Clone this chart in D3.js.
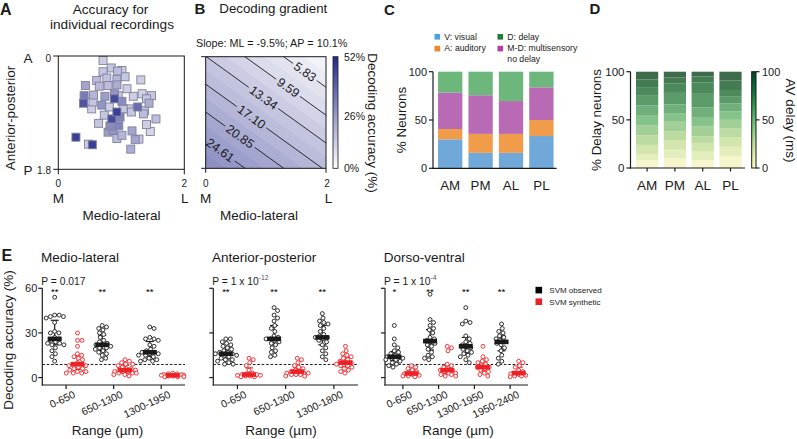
<!DOCTYPE html>
<html><head><meta charset="utf-8">
<script src="https://cdn.jsdelivr.net/npm/d3@7"></script>
<style>
body{margin:0;background:#fff}
svg{display:block}
text{font-family:"Liberation Sans",Arial,Helvetica,sans-serif}
</style>
</head><body>
<script>
// ================= DATA =================
// Panel A: individual recordings (ML mm, AP mm, accuracy %)
const recML  = [0.71,0.84,1.01,1.06,0.94,1.31,0.61,0.77,0.93,0.43,0.65,0.79,0.93,0.41,0.56,0.74,0.89,0.89,0.40,0.55,0.69,1.01,1.19,1.33,1.48,1.44,1.26,1.12,1.37,0.53,0.93,0.73,0.85,0.98,1.35,1.55,0.64,0.82,0.96,1.40,1.46,0.87,1.17,1.01,0.93,1.22,1.28,0.28,0.48,0.54,1.15,0.81,1.03,1.09,0.71,1.16,1.40,0.79,0.95];
const recAP  = [0.07,0.19,0.23,0.33,0.24,0.38,0.39,0.35,0.37,0.47,0.48,0.47,0.46,0.63,0.62,0.64,0.60,0.68,0.75,0.73,0.78,0.72,0.64,0.60,0.63,0.75,0.81,0.84,0.87,0.84,0.89,0.94,1.00,0.97,0.92,1.00,1.07,1.11,1.11,1.09,1.20,1.18,1.19,1.26,1.31,1.33,1.32,1.29,1.40,1.41,1.48,0.81,0.84,0.52,0.25,0.89,0.68,1.21,0.63];
const recAcc = [10,12,11,12,14,10,14,13,16,20,15,14,18,30,16,22,24,42,40,12,24,26,10,9,12,18,34,10,12,10,45,12,42,28,14,14,12,26,28,10,8,24,20,16,14,20,12,45,10,45,18,10,12,10,12,12,12,22,12];

// Panel B: fitted plane (accuracy % = intercept + slopeML*ML + slopeAP*AP)
const planeIntercept = 13.4, planeSlopeML = -5.84, planeSlopeAP = 8.35;
const contourLevels = [5.83, 9.59, 13.34, 17.10, 20.85, 24.61];
const contourLabelML = [1.65, 1.37, 0.96, 0.76, 0.57, 0.24];
const accTicks = [0, 26, 52];

// Panel C
const areas = ["AM","PM","AL","PL"];
const pctVisual        = [30.0, 16.0, 16.0, 33.4];
const pctAuditory      = [10.7, 19.6, 19.6, 16.6];
const pctMultiNoDelay  = [37.6, 40.0, 34.0, 33.8];
const pctDelay         = [21.7, 24.4, 30.4, 16.2];
const classNames = ["V: visual","A: auditory","D: delay","M-D: multisensory"];

// Panel D: % of delay neurons per AV-delay bin (0..100 ms), bottom to top
const delayBins = [0,10,20,30,40,50,60,70,80,90,100];
const delayAM = [8,6,10,10,10,11,10,10,9,8,8];
const delayPM = [10,9,10,9,10,9,9,12,10,6,6];
const delayAL = [8,9,9,7,10,10,10,14,12,6,5];
const delayPL = [12,10,10,9,9,9,8,7,7,10,9];

// Panel E
const chanceLevel = 8.8;
const mlRanges = ["0-650","650-1300","1300-1950"];
const mlObserved = [
 [54,42,41,40,41,42,37,31,30,30,27,26,25,24,23,23,22,22,20,18,16,14,11],
 [35,34,33,32,30,29,27,25,24,23,22,22,21,20,20,19,18,17,16,15,13,12],
 [34,33,27,26,26,25,22,21,19,18,17,17,16,16,15,15,14,13,12,12,11,11]];
const mlSynthetic = [
 [30,25,25,21,16,15,14,13,12,10,9,9,8,8,7,6,6,5,4,4,3,3,3],
 [12,11,10,9,9,8,7,6,6,5,5,4,4,4,3,3,3,2,2,1],
 [3,2.5,2.5,2,2,1.5,1.5,1,1,0.5,0.5,0.5]];
const mlStars = ["**","**","**"];
const apRanges = ["0-650","650-1300","1300-1800"];
const apObserved = [
 [26,26,24,23,22,21,20,19,18,17,17,16,16,15,15,14,13,12,12,11,10,9,9],
 [47,45,42,40,38,35,33,31,28,27,26,26,25,24,23,22,20,18,17,15,14],
 [43,40,38,37,36,35,33,31,29,28,27,27,26,25,24,22,20,18,16,14,12]];
const apSynthetic = [
 [13,12,10,8,5,3,2.5,2,2,1.5,1.5,1,1,0.5,0.5],
 [13,12,10,8,7,6,5,4,4,3,3,3,2,2,2,1,1],
 [21,18,16,15,14,13,12,11,10,10,9,8,8,7,6,5,4,3]];
const apStars = ["**","**","**"];
const dvRanges = ["0-650","650-1300","1300-1950","1950-2400"];
const dvObserved = [
 [35,26,22,20,18,17,16,15,14,14,13,13,12,12,11,10,9,8,7],
 [56,39,37,35,33,32,30,27,26,25,24,23,22,21,19,17,15,14,13,12],
 [47,38,37,36,28,26,24,23,22,21,20,19,18,17,16,15,14,12,10],
 [36,33,31,30,28,27,26,25,24,23,22,20,18,15,13,11,9]];
const dvSynthetic = [
 [8,7,6,5,4,3,2.5,2,1.5,1,1,0.5],
 [21,20,18,9,8,7,6,5,5,4,3,3,2,2,1,1],
 [21,14,12,11,10,9,8,7,7,6,5,4,3,2,1],
 [11,10,8,7,5,4,3,2.5,2,1.5,1,1,0.5]];
const dvStars = ["*","**","**","**"];
const eTicks = [0,30,60];

// ================= DRAW =================
const ink = "#1a1a1a";
const svg = d3.select("body").append("svg").attr("width",797).attr("height",439);
const defs = svg.append("defs");

function T(g,x,y,s,o={}){
  const t=g.append("text").attr("x",x).attr("y",y).text(s)
    .attr("font-size",o.size||12).attr("fill",o.fill||ink)
    .attr("text-anchor",o.anchor||"start");
  if(o.weight) t.attr("font-weight",o.weight);
  if(o.rotate!=null) t.attr("transform",`rotate(${o.rotate},${x},${y})`);
  return t;
}
function L(g,x1,y1,x2,y2,o={}){
  return g.append("line").attr("x1",x1).attr("y1",y1).attr("x2",x2).attr("y2",y2)
    .attr("stroke",o.stroke||ink).attr("stroke-width",o.w||1)
    .attr("stroke-dasharray",o.dash||null);
}

// panel letters
T(svg,0,15,"A",{size:16,weight:"bold"});
T(svg,194.5,13.5,"B",{size:15,weight:"bold"});
T(svg,384,14.5,"C",{size:15,weight:"bold"});
T(svg,589.5,14,"D",{size:15,weight:"bold"});
T(svg,1.5,261,"E",{size:16,weight:"bold"});

const accColor = d3.scaleLinear([0,52],["#ffffff","#262a8c"]);

// ---------- Panel A ----------
{
  const g = svg.append("g");
  const x = d3.scaleLinear([0,2],[58.3,184.3]);
  const y = d3.scaleLinear([0,1.8],[56,169.3]);
  T(g,110.5,14,"Accuracy for",{size:13.6,anchor:"middle"});
  T(g,112,28.5,"individual recordings",{size:13.6,anchor:"middle"});
  const order = d3.range(recML.length).sort((a,b)=>recAcc[a]-recAcc[b]);
  const s = 8;
  g.selectAll("rect.rec").data(order).join("rect").attr("class","rec")
    .attr("x",i=>x(recML[i])-s/2).attr("y",i=>y(recAP[i])-s/2)
    .attr("width",s).attr("height",s)
    .attr("fill",i=>accColor(recAcc[i]+2)).attr("stroke","#80809c").attr("stroke-width",0.9);
  g.append("rect").attr("x",x(0)).attr("y",y(0)).attr("width",x(2)-x(0)).attr("height",y(1.8)-y(0))
    .attr("fill","none").attr("stroke",ink).attr("stroke-width",1);
  [0,1.8].forEach(v=>L(g,x(0)-5,y(v),x(0),y(v)));
  [0,2].forEach(v=>L(g,x(v),y(1.8),x(v),y(1.8)+5));
  T(g,51,61.5,"0",{size:10,anchor:"end"});
  T(g,51,173.5,"1.8",{size:10,anchor:"end"});
  T(g,28,63,"A",{size:13.5,anchor:"middle"});
  T(g,28,175,"P",{size:13.5,anchor:"middle"});
  T(g,x(0),186.5,"0",{size:10,anchor:"middle"});
  T(g,x(2),186.5,"2",{size:10,anchor:"middle"});
  T(g,x(0),203,"M",{size:13.5,anchor:"middle"});
  T(g,x(2)+0.5,203,"L",{size:13.5,anchor:"middle"});
  T(g,121.5,219.5,"Medio-lateral",{size:13.5,anchor:"middle"});
  T(g,14.5,118,"Anterior-posterior",{size:13.5,anchor:"middle",rotate:-90});
}

// ---------- Panel B ----------
{
  const g = svg.append("g");
  const x = d3.scaleLinear([0,2],[205.7,326]);
  const y = d3.scaleLinear([0,1.8],[56.7,168.3]);
  const plane = (ml,ap)=>planeIntercept+planeSlopeML*ml+planeSlopeAP*ap;
  T(g,219.3,13,"Decoding gradient",{size:13.3});
  T(g,196,46.5,"Slope: ML = -9.5%; AP = 10.1%",{size:10.8});
  defs.append("clipPath").attr("id","clipB").append("rect")
    .attr("x",x(0)).attr("y",y(0)).attr("width",x(2)-x(0)).attr("height",y(1.8)-y(0));
  const nx=161, ny=145;
  const grid = new Array(nx*ny);
  for(let j=0;j<ny;j++) for(let i=0;i<nx;i++) grid[j*nx+i]=plane(2*i/(nx-1),1.8*j/(ny-1));
  const half=(contourLevels[1]-contourLevels[0])/2;
  const fillTh = d3.range(contourLevels[0]-4*half, 34, half);
  const cont = d3.contours().size([nx,ny]).thresholds(fillTh)(grid);
  const proj = d3.geoTransform({point:function(px,py){
    this.stream.point(x(2*(px-0.5)/(nx-1)), y(1.8*(py-0.5)/(ny-1)));}});
  const path = d3.geoPath(proj);
  const gc = g.append("g").attr("clip-path","url(#clipB)");
  gc.append("rect").attr("x",x(0)).attr("y",y(0)).attr("width",x(2)-x(0)).attr("height",y(1.8)-y(0))
    .attr("fill",accColor(1));
  gc.selectAll("path").data(cont).join("path").attr("d",path)
    .attr("fill",d=>accColor(Math.max(0,d.value+half/2))).attr("stroke","none");
  contourLevels.forEach((v,k)=>{
    const pts=[];
    const yA=(v-planeIntercept)/planeSlopeAP; if(yA>=0&&yA<=1.8) pts.push([0,yA]);
    const yB=(v-planeIntercept-2*planeSlopeML)/planeSlopeAP; if(yB>=0&&yB<=1.8) pts.push([2,yB]);
    const xA=(v-planeIntercept)/planeSlopeML; if(xA>=0&&xA<=2) pts.push([xA,0]);
    const xB=(v-planeIntercept-1.8*planeSlopeAP)/planeSlopeML; if(xB>=0&&xB<=2) pts.push([xB,1.8]);
    const P=pts.slice(0,2).map(p=>[x(p[0]),y(p[1])]).sort((a,b)=>a[0]-b[0]);
    const lm=contourLabelML[k], la=(v-planeIntercept-planeSlopeML*lm)/planeSlopeAP;
    const cx=x(lm), cy=y(la);
    const dx=P[1][0]-P[0][0], dy=P[1][1]-P[0][1], len=Math.hypot(dx,dy), ux=dx/len, uy=dy/len;
    const ang=Math.atan2(dy,dx)*180/Math.PI;
    const t=g.append("text").attr("x",0).attr("y",0).attr("text-anchor","middle")
      .attr("dominant-baseline","central").attr("font-size",12.5).attr("fill",ink)
      .attr("transform",`translate(${cx},${cy}) rotate(${ang})`).text(v.toFixed(2));
    const gap=t.node().getComputedTextLength()/2+2.5;
    L(g,P[0][0],P[0][1],cx-gap*ux,cy-gap*uy,{w:0.9});
    L(g,cx+gap*ux,cy+gap*uy,P[1][0],P[1][1],{w:0.9});
  });
  g.append("rect").attr("x",x(0)).attr("y",y(0)).attr("width",x(2)-x(0)).attr("height",y(1.8)-y(0))
    .attr("fill","none").attr("stroke",ink).attr("stroke-width",1);
  [0,1.8].forEach(v=>L(g,x(0)-4.5,y(v),x(0),y(v)));
  [0,2].forEach(v=>L(g,x(v),y(1.8),x(v),y(1.8)+4.5));
  T(g,x(0),186.5,"0",{size:10,anchor:"middle"});
  T(g,x(2)+1,186.5,"2",{size:10,anchor:"middle"});
  T(g,x(0),203,"M",{size:13.5,anchor:"middle"});
  T(g,x(2)+2.5,203,"L",{size:13.5,anchor:"middle"});
  T(g,259,219.5,"Medio-lateral",{size:13.5,anchor:"middle"});
  const grad=defs.append("linearGradient").attr("id","gB").attr("x1",0).attr("y1",1).attr("x2",0).attr("y2",0);
  d3.range(0,1.01,0.1).forEach(f=>grad.append("stop").attr("offset",f).attr("stop-color",accColor(52*f)));
  const cy=d3.scaleLinear([0,52],[168.3,56.7]);
  g.append("rect").attr("x",333).attr("y",cy(52)).attr("width",5).attr("height",cy(0)-cy(52))
    .attr("fill","url(#gB)").attr("stroke",ink).attr("stroke-width",0.8);
  accTicks.forEach(v=>T(g,344,cy(v)+4+(v===26?3:0),v+"%",{size:10.5}));
  T(g,368,123,"Decoding accuracy (%)",{size:13.5,anchor:"middle",rotate:90});
}

// ---------- Panel C ----------
{
  const g = svg.append("g");
  const x = d3.scaleBand(areas,[435,556.6]).paddingInner(0.2).paddingOuter(0.1);
  const y = d3.scaleLinear([0,100],[168.3,71.7]);
  const series=[pctVisual,pctAuditory,pctMultiNoDelay,pctDelay];
  const barCol=["#70a9d9","#f19c4a","#b86bb4","#6db67c"];
  const table=areas.map((a,i)=>({area:a,V:series[0][i],A:series[1][i],M:series[2][i],D:series[3][i]}));
  const stack=d3.stack().keys(["V","A","M","D"])(table);
  stack.forEach((s,k)=>g.selectAll(null).data(s).join("rect")
    .attr("x",d=>x(d.data.area)).attr("width",x.bandwidth())
    .attr("y",d=>y(d[1])).attr("height",d=>y(d[0])-y(d[1])).attr("fill",barCol[k]));
  L(g,433,71.7,433,168.8,{w:1.2});
  L(g,432.4,168.3,556.6,168.3,{w:1.2});
  [0,50,100].forEach(v=>{L(g,429,y(v),433,y(v),{w:1.2}); T(g,427,y(v)+4,String(v),{size:11,anchor:"end"});});
  areas.forEach(a=>T(g,x(a)+x.bandwidth()/2,190,a,{size:13.3,anchor:"middle"}));
  T(g,406,120,"% Neurons",{size:13.4,anchor:"middle",rotate:-90});
  // legend: V, A, D, M-D
  const legend=[[434.5,34,"#4aa2e2",0],[434.5,45.8,"#f1862a",1],[497.5,34,"#1d7b3b",2],[497.5,45.8,"#b13fa9",3]];
  legend.forEach(([lx,ly,col,k])=>{
    g.append("rect").attr("x",lx).attr("y",ly).attr("width",5.6).attr("height",5.6).attr("fill",col);
    T(g,lx+9.8,ly+5.5,classNames[k],{size:8.7});
  });
  T(g,507.3,61.5,"no delay",{size:8.7});
}

// ---------- Panel D ----------
{
  const g = svg.append("g");
  const x = d3.scaleBand(areas,[633.2,744.4]).paddingInner(0.2).paddingOuter(0.1);
  const y = d3.scaleLinear([0,100],[168,71.7]);
  const barColor = d3.scaleLinear([0,25,50,75,100],["#f6f5cc","#c9e1a5","#86c38b","#4f9161","#3e6c4a"]);
  const per=[delayAM,delayPM,delayAL,delayPL];
  const table=areas.map((a,i)=>{const o={area:a}; delayBins.forEach((b,k)=>o["d"+b]=per[i][k]); return o;});
  const stack=d3.stack().keys(delayBins.map(b=>"d"+b))(table);
  stack.forEach((s,k)=>g.selectAll(null).data(s).join("rect")
    .attr("x",d=>x(d.data.area)).attr("width",x.bandwidth())
    .attr("y",d=>y(d[1])).attr("height",d=>y(d[0])-y(d[1])).attr("fill",barColor(delayBins[k])));
  L(g,630.5,71.7,630.5,168.5,{w:1.2});
  L(g,630,168,745,168,{w:1.2});
  [0,50,100].forEach(v=>{L(g,626.5,y(v),630.5,y(v),{w:1.2}); T(g,624.5,y(v)+4,String(v),{size:11.5,anchor:"end"});});
  areas.forEach(a=>{const c=x(a)+x.bandwidth()/2; L(g,c,168,c,171.5,{w:1.2}); T(g,c,189.5,a,{size:13.5,anchor:"middle"});});
  T(g,601,120,"% Delay neurons",{size:13.4,anchor:"middle",rotate:-90});
  const grad=defs.append("linearGradient").attr("id","gD").attr("x1",0).attr("y1",1).attr("x2",0).attr("y2",0);
  d3.range(0,1.01,0.1).forEach(f=>grad.append("stop").attr("offset",f).attr("stop-color",d3.interpolateYlGn(0.1+0.9*f)));
  g.append("rect").attr("x",751.7).attr("y",y(100)).attr("width",4.3).attr("height",y(0)-y(100))
    .attr("fill","url(#gD)").attr("stroke",ink).attr("stroke-width",1);
  [0,50,100].forEach(v=>{L(g,756,y(v),759.5,y(v),{w:1.2}); T(g,762,y(v)+4,String(v),{size:11});});
  T(g,785.5,120.5,"AV delay (ms)",{size:13.5,anchor:"middle",rotate:90});
}

// ---------- Panel E ----------
function swarm(vals, y, cx, d, maxW){
  const pts=vals.map(v=>({v,y:y(v)})).sort((a,b)=>a.y-b.y);
  const placed=[];
  pts.forEach(p=>{
    let best=null, bestPen=Infinity;
    for(let k=0;k<=Math.ceil(maxW/0.25)*2;k++){
      const off=(k%2?1:-1)*Math.ceil(k/2)*0.25;
      if(Math.abs(off)>maxW) continue;
      let pen=0;
      placed.forEach(q=>{const dd=Math.hypot(q.x-(cx+off),q.y-p.y); if(dd<d) pen+=d-dd;});
      if(pen===0){best=off;bestPen=0;break;}
      if(pen<bestPen-1e-9){bestPen=pen;best=off;}
    }
    p.x=cx+best; placed.push(p);
  });
  return placed;
}
const red="#ec2227";
function panelE(cfg){
  const {x0,x1,title,groups,obs,syn,stars,pMain,pSup,showLabels,rangeX}=cfg;
  const g=svg.append("g");
  const y=d3.scaleLinear([-5,60],[385,288.3]);
  const x=d3.scalePoint(groups,[x0,x1]).padding(0.5);
  const off=x.step()*0.24, maxW=x.step()*0.24;
  T(g,x0-1.3,261.5,title,{size:13.5});
  const pt=T(g,x0-1,284.5,pMain,{size:10.3});
  if(pSup) pt.append("tspan").attr("dy",-4.5).attr("font-size",6.8).attr("fill","#555").text(pSup);
  L(g,x0,y(60),x0,385.5,{w:1.2});
  L(g,x0-0.6,385,x1,385,{w:1.2});
  eTicks.forEach(v=>{L(g,x0-4,y(v),x0,y(v),{w:1.2}); if(showLabels) T(g,x0-5,y(v)+4,String(v),{size:11,anchor:"end"});});
  L(g,x0,y(chanceLevel),x1,y(chanceLevel),{w:1,dash:"2.6,1.8"});
  groups.forEach((gr,i)=>{
    const c=x(gr);
    L(g,c,385,c,389,{w:1.2});
    g.append("text").attr("text-anchor","end").attr("font-size",10.5).attr("fill",ink)
      .attr("transform",`translate(${c+10},${397}) rotate(-25)`).text(gr);
    [[obs[i],c-off,ink],[syn[i],c+off,red]].forEach(([vals,cx,col])=>{
      const s=vals.slice().sort(d3.ascending);
      const med=d3.median(s), q1=d3.quantile(s,0.25), q3=d3.quantile(s,0.75);
      L(g,cx,y(q1),cx,y(q3),{stroke:col,w:1.2});
      L(g,cx-4,y(q1),cx+4,y(q1),{stroke:col,w:1.2});
      L(g,cx-4,y(q3),cx+4,y(q3),{stroke:col,w:1.2});
      const pts=swarm(vals,y,cx,4.5,maxW);
      g.selectAll(null).data(pts).join("circle").attr("cx",d=>d.x).attr("cy",d=>d.y).attr("r",1.95)
        .attr("fill","#fff").attr("stroke",col).attr("stroke-width",0.9);
      g.append("rect").attr("x",cx-7).attr("y",y(med)-2.3).attr("width",14).attr("height",4.6).attr("fill",col);
    });
    T(g,c-off,295,stars[i],{size:9.5,anchor:"middle",fill:"#000"});
  });
  T(g,rangeX,435,"Range (\u00b5m)",{size:13.5,anchor:"middle"});
}
panelE({x0:42.3,x1:185,title:"Medio-lateral",groups:mlRanges,obs:mlObserved,syn:mlSynthetic,stars:mlStars,pMain:"P = 0.017",pSup:null,showLabels:true,rangeX:107.5});
panelE({x0:213.3,x1:358,title:"Anterior-posterior",groups:apRanges,obs:apObserved,syn:apSynthetic,stars:apStars,pMain:"P = 1 x 10",pSup:"-12",showLabels:false,rangeX:281});
panelE({x0:385,x1:528,title:"Dorso-ventral",groups:dvRanges,obs:dvObserved,syn:dvSynthetic,stars:dvStars,pMain:"P = 1 x 10",pSup:"-4",showLabels:false,rangeX:458});
T(svg,13,340,"Decoding accuracy (%)",{size:13.5,anchor:"middle",rotate:-90});
// legend E
svg.append("rect").attr("x",535.5).attr("y",286.8).attr("width",6.6).attr("height",6.6).attr("fill","#000");
svg.append("rect").attr("x",535.5).attr("y",298.4).attr("width",6.6).attr("height",6.6).attr("fill",red);
T(svg,549.3,293,"SVM observed",{size:8});
T(svg,549.3,304.5,"SVM synthetic",{size:8});
</script>
</body></html>
